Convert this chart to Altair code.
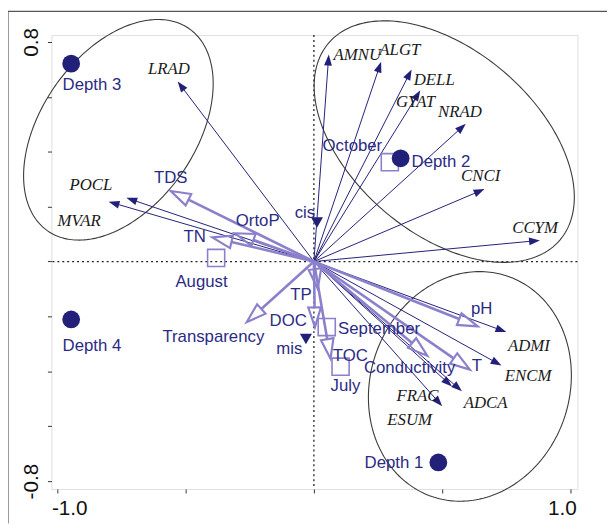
import altair as alt
import numpy as np
import pandas as pd

# ---------------- data ----------------
# species arrows (tips) and label positions
sp_names = ["LRAD", "POCL", "MVAR", "AMNU", "ALGT", "DELL", "GYAT", "NRAD",
            "CNCI", "CCYM", "ADMI", "ENCM", "ADCA", "ESUM", "FRAC"]
sp_x = [-0.531, -0.731, -0.800, 0.058, 0.262, 0.381, 0.415, 0.592,
        0.665, 0.881, 0.750, 0.731, 0.577, 0.538, 0.500]
sp_y = [0.656, 0.232, 0.218, 0.754, 0.728, 0.700, 0.624, 0.502,
        0.264, 0.077, -0.257, -0.379, -0.473, -0.455, -0.527]
sp_lx = [-0.565, -0.869, -0.915, 0.169, 0.335, 0.469, 0.396, 0.569,
         0.650, 0.862, 0.838, 0.835, 0.669, 0.373, 0.404]
sp_ly = [0.703, 0.279, 0.149, 0.754, 0.772, 0.660, 0.581, 0.545,
         0.311, 0.121, -0.308, -0.419, -0.516, -0.577, -0.491]

# environmental arrows
env_names = ["TDS", "OrtoP", "TN", "Transparency", "TP", "DOC", "TOC",
             "pH", "T", "Conductivity"]
env_x = [-0.558, -0.308, -0.396, -0.262, 0.015, 0.004, 0.065, 0.638, 0.608, 0.442]
env_y = [0.257, 0.103, 0.088, -0.221, -0.099, -0.239, -0.354, -0.236, -0.394, -0.343]
env_lx = [-0.558, -0.219, -0.465, -0.392, -0.050, -0.100, 0.142, 0.654, 0.635, 0.373]
env_ly = [0.304, 0.149, 0.088, -0.275, -0.121, -0.218, -0.344, -0.174, -0.380, -0.390]

# months (open squares)
month_names = ["August", "October", "September", "July"]
month_x = [-0.381, 0.296, 0.050, 0.104]
month_y = [0.013, 0.362, -0.239, -0.383]
month_lx = [-0.438, 0.150, 0.254, 0.123]
month_ly = [-0.074, 0.419, -0.246, -0.455]

# centroids (filled triangles)
cen_names = ["cis", "mis"]
cen_x = [0.012, -0.031]
cen_y = [0.142, -0.282]
cen_lx = [-0.035, -0.096]
cen_ly = [0.178, -0.318]

# depths (filled circles)
dep_names = ["Depth 3", "Depth 2", "Depth 4", "Depth 1"]
dep_x = [-0.946, 0.338, -0.946, 0.485]
dep_y = [0.721, 0.376, -0.211, -0.732]
dep_lx = [-0.865, 0.495, -0.865, 0.312]
dep_ly = [0.642, 0.362, -0.308, -0.736]

# grouping ellipses: centre, semi-axes (x-axis units), rotation (deg)
ell_cx = [-0.762, 0.508, 0.608]
ell_cy = [0.480, 0.437, -0.455]
ell_a = [0.481, 0.592, 0.454]
ell_b = [0.300, 0.358, 0.388]
ell_rot = [55.0, -40.4, 71.0]

x_ticks = [-1.0, -0.5, 0.0, 0.5, 1.0]
y_ticks = [-0.8, -0.6, -0.4, -0.2, 0.0, 0.2, 0.4, 0.6, 0.8]

# ---------------- layout / style ----------------
W, H = 533, 460
XDOM = [-1.023, 1.027]
YDOM = [-0.829, 0.825]
SX = W / (XDOM[1] - XDOM[0])
SY = H / (YDOM[1] - YDOM[0])

NAVY = "#23207a"
LILAC = "#8b80cb"
LBLUE = "#2b2b85"
SANS = "Liberation Sans"
SERIF = "Liberation Serif"

ENV_HEAD = 20.0
SP_HEAD = 11.0
ENV_PATH = "M0,0L0.32,1L-0.32,1Z"
SP_PATH = "M0,0L0.36,1L-0.36,1Z"


def arrows(xs, ys, head_len):
    df = pd.DataFrame({"xe": xs, "ye": ys})
    px = df["xe"] * SX
    py = df["ye"] * SY
    length = np.sqrt(px ** 2 + py ** 2)
    f = 1 - head_len / length
    df["x0"] = 0.0
    df["y0"] = 0.0
    df["xs"] = df["xe"] * f
    df["ys"] = df["ye"] * f
    df["ang"] = (np.degrees(np.arctan2(px, py)) + 360) % 360
    return df


env_df = arrows(env_x, env_y, ENV_HEAD)
sp_df = arrows(sp_x, sp_y, SP_HEAD * 0.5)

# ellipse outlines
rows = []
t = np.linspace(0, 2 * np.pi, 241)
for i in range(len(ell_cx)):
    th = np.radians(ell_rot[i])
    du = ell_a[i] * SX * np.cos(t)
    dv = ell_b[i] * SX * np.sin(t)
    ex = ell_cx[i] + (du * np.cos(th) - dv * np.sin(th)) / SX
    ey = ell_cy[i] + (du * np.sin(th) + dv * np.cos(th)) / SY
    for k in range(len(t)):
        rows.append({"g": i, "k": k, "x": ex[k], "y": ey[k]})
ell_df = pd.DataFrame(rows)

XAX = alt.Axis(values=x_ticks, title=None, grid=False, domain=False,
               tickSize=4, tickColor="#333", tickWidth=1,
               labelExpr="datum.value == -1 ? '-1.0' : (datum.value == 1 ? '1.0' : '')",
               labelFont=SANS, labelFontSize=21, labelColor="#111",
               labelFlush=9, labelFlushOffset=6, labelPadding=5)
YAX = alt.Axis(values=y_ticks, title=None, grid=False, domain=False,
               tickSize=4, tickColor="#333", tickWidth=1,
               labelExpr="abs(datum.value - 0.8) < 0.001 ? '0.8' : (abs(datum.value + 0.8) < 0.001 ? '-0.8' : '')",
               labelFont=SANS, labelFontSize=21, labelColor="#111",
               labelAngle=270, labelAlign="center", labelBaseline="bottom",
               labelPadding=6, labelFlush=False)
XS = alt.Scale(domain=XDOM, nice=False, zero=False)
YS = alt.Scale(domain=YDOM, nice=False, zero=False)


def X(f):
    return alt.X(f, type="quantitative", scale=XS, axis=XAX)


def Y(f):
    return alt.Y(f, type="quantitative", scale=YS, axis=YAX)


zero_df = pd.DataFrame({"v": [0.0]})
vline = alt.Chart(zero_df).mark_rule(color="#222", strokeDash=[2, 3], strokeWidth=1.3).encode(x=X("v"))
hline = alt.Chart(zero_df).mark_rule(color="#222", strokeDash=[2, 3], strokeWidth=1.3).encode(y=Y("v"))

ellipses = alt.Chart(ell_df).mark_line(color="#3a3a3a", strokeWidth=1.1, clip=False).encode(
    x=X("x"), y=Y("y"), detail="g:N", order="k:Q")

env_shaft = alt.Chart(env_df).mark_rule(color=LILAC, strokeWidth=2.6).encode(
    x=X("x0"), y=Y("y0"), x2="xs:Q", y2="ys:Q")
env_head = alt.Chart(env_df).mark_point(shape=ENV_PATH, filled=False, stroke=LILAC,
                                        strokeWidth=2.2, size=(2 * ENV_HEAD) ** 2, opacity=1).encode(
    x=X("xe"), y=Y("ye"), angle=alt.Angle("ang:Q", scale=None))

sp_shaft = alt.Chart(sp_df).mark_rule(color=NAVY, strokeWidth=1.0).encode(
    x=X("x0"), y=Y("y0"), x2="xs:Q", y2="ys:Q")
sp_head = alt.Chart(sp_df).mark_point(shape=SP_PATH, filled=True, color=NAVY,
                                      size=(2 * SP_HEAD) ** 2, opacity=1).encode(
    x=X("xe"), y=Y("ye"), angle=alt.Angle("ang:Q", scale=None))

month_df = pd.DataFrame({"name": month_names, "x": month_x, "y": month_y,
                         "lx": month_lx, "ly": month_ly})
cen_df = pd.DataFrame({"name": cen_names, "x": cen_x, "y": cen_y,
                       "lx": cen_lx, "ly": cen_ly})
dep_df = pd.DataFrame({"name": dep_names, "x": dep_x, "y": dep_y,
                       "lx": dep_lx, "ly": dep_ly})
env_lab = pd.DataFrame({"name": env_names, "lx": env_lx, "ly": env_ly})
sp_lab = pd.DataFrame({"name": sp_names, "lx": sp_lx, "ly": sp_ly})

squares = alt.Chart(month_df).mark_point(shape="square", filled=False, stroke=LILAC,
                                         strokeWidth=1.6, size=300, opacity=1).encode(x=X("x"), y=Y("y"))
tris = alt.Chart(cen_df).mark_point(shape="triangle-down", filled=True, color=NAVY,
                                    size=150, opacity=1).encode(x=X("x"), y=Y("y"))
circles = alt.Chart(dep_df).mark_point(shape="circle", filled=True, color=NAVY,
                                       size=324, opacity=1).encode(x=X("x"), y=Y("y"))


def labels(df, **kw):
    return alt.Chart(df).mark_text(align="center", baseline="middle", **kw).encode(
        x=X("lx"), y=Y("ly"), text="name:N")


sans_kw = dict(font=SANS, fontSize=17, color=LBLUE)
t_env = labels(env_lab, **sans_kw)
t_month = labels(month_df, **sans_kw)
t_cen = labels(cen_df, **sans_kw)
t_dep = labels(dep_df, **sans_kw)
t_sp = labels(sp_lab, font=SERIF, fontSize=17, fontStyle="italic", color="#1a1a1a")

border_top = alt.Chart(zero_df).mark_rule(color="#555", strokeWidth=1.2).encode(
    x=alt.value(-44), x2=alt.value(W + 30), y=alt.value(-24))
border_left = alt.Chart(zero_df).mark_rule(color="#555", strokeWidth=1.2).encode(
    x=alt.value(-44), y=alt.value(-24), y2=alt.value(H + 35))

chart = alt.layer(
    vline, hline, ellipses, sp_shaft, sp_head, env_shaft, env_head,
    squares, tris, circles, t_env, t_month, t_cen, t_dep, t_sp,
    border_top, border_left
).properties(
    width=W, height=H,
    autosize=alt.AutoSizeParams(type="none"),
    padding={"left": 44, "top": 24, "right": 30, "bottom": 35},
).configure_view(stroke="#222", strokeWidth=1.3).configure(background="white")

chart.save("out.html", embed_options={"renderer": "svg", "actions": False})
